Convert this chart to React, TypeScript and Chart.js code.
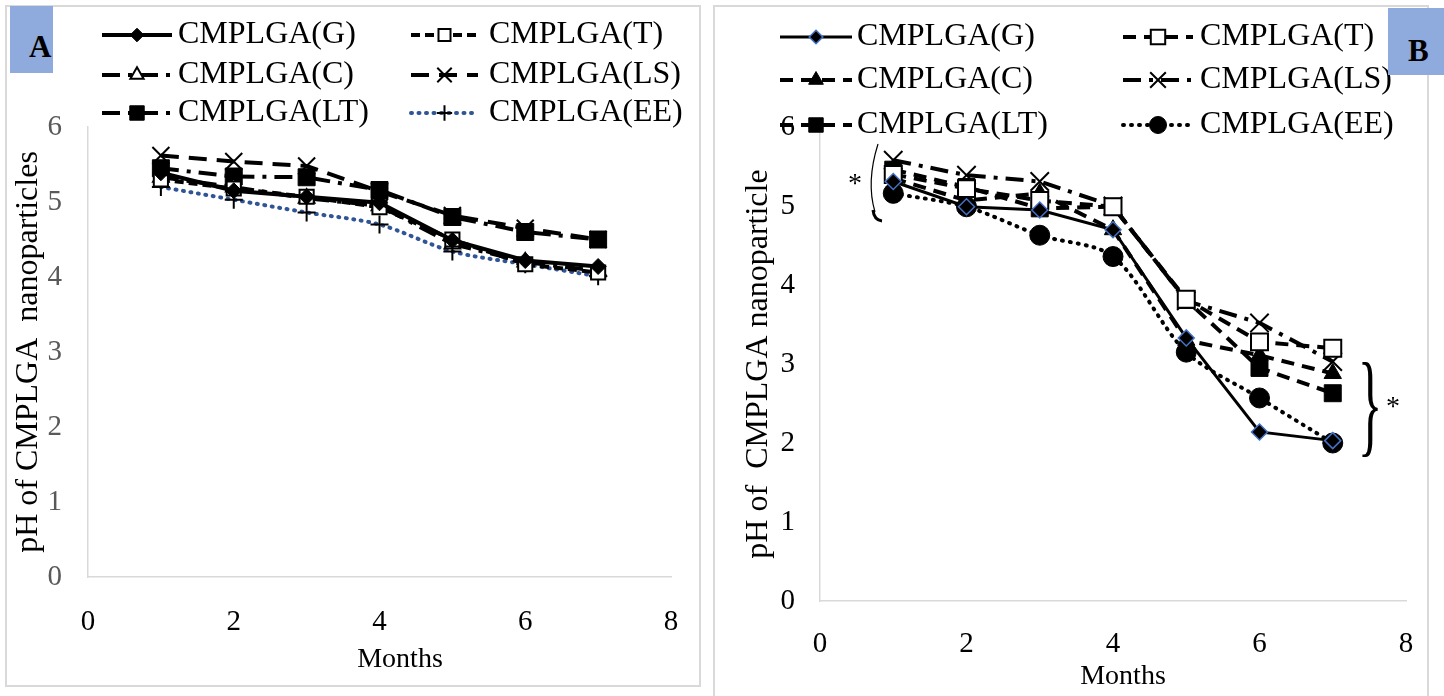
import React, { useEffect, useRef } from 'react';
import { Chart, registerables } from 'chart.js';
import { drawPoint } from 'chart.js/helpers';

Chart.register(...registerables);

// ---------- data ----------
const months = [1, 2, 3, 4, 5, 6, 7];
const seriesNames = ['CMPLGA(G)', 'CMPLGA(T)', 'CMPLGA(C)', 'CMPLGA(LS)', 'CMPLGA(LT)', 'CMPLGA(EE)'];

const panelA_G = [5.39, 5.15, 5.07, 4.99, 4.49, 4.22, 4.14];
const panelA_T = [5.3, 5.18, 5.07, 4.93, 4.5, 4.17, 4.06];
const panelA_C = [5.33, 5.2, 5.05, 4.95, 4.44, 4.2, 4.08];
const panelA_LS = [5.62, 5.54, 5.48, 5.14, 4.82, 4.65, 4.5];
const panelA_LT = [5.45, 5.34, 5.33, 5.16, 4.8, 4.6, 4.5];
const panelA_EE = [5.2, 5.03, 4.86, 4.7, 4.34, 4.17, 4.01];

const panelB_G = [5.31, 4.99, 4.95, 4.7, 3.33, 2.14, 2.03];
const panelB_T = [5.4, 5.22, 5.07, 4.99, 3.82, 3.28, 3.2];
const panelB_C = [5.35, 5.07, 5.16, 4.7, 3.3, 3.11, 2.88];
const panelB_LS = [5.58, 5.39, 5.31, 5.0, 3.8, 3.52, 3.03];
const panelB_LT = [5.46, 5.24, 4.97, 4.99, 3.81, 2.95, 2.63];
const panelB_EE = [5.16, 4.99, 4.63, 4.36, 3.15, 2.57, 2.0];

const xTickValues = [0, 2, 4, 6, 8];
const yTickValues = [0, 1, 2, 3, 4, 5, 6];
const xTitle = 'Months';
const yTitleA = 'pH of CMPLGA  nanoparticles';
const yTitleB = 'pH of  CMPLGA nanoparticle';
const panelLabelA = 'A';
const panelLabelB = 'B';
const starText = '*';
const braceText = '}';

// ---------- styles ----------
const FONT = "'Liberation Serif', 'Times New Roman', serif";

const stylesA: any[] = [
  { borderColor: '#000', borderWidth: 4, borderDash: [], pointStyle: 'rectRot', pointRadius: 8, pointBackgroundColor: '#000', pointBorderColor: '#000', pointBorderWidth: 1 },
  { borderColor: '#000', borderWidth: 4, borderDash: [9, 5], pointStyle: 'rect', pointRadius: 10, pointBackgroundColor: '#fff', pointBorderColor: '#000', pointBorderWidth: 2 },
  { borderColor: '#000', borderWidth: 4, borderDash: [18, 8, 4, 8], pointStyle: 'triangle', pointRadius: 9, pointBackgroundColor: '#fff', pointBorderColor: '#000', pointBorderWidth: 2 },
  { borderColor: '#000', borderWidth: 4, borderDash: [18, 10], pointStyle: 'crossRot', pointRadius: 12, pointBackgroundColor: '#000', pointBorderColor: '#000', pointBorderWidth: 2 },
  { borderColor: '#000', borderWidth: 4, borderDash: [18, 8, 4, 8], pointStyle: 'rect', pointRadius: 12, pointBackgroundColor: '#000', pointBorderColor: '#000', pointBorderWidth: 1 },
  { borderColor: '#2F5597', borderWidth: 4, borderDash: [1, 6.5], borderCapStyle: 'round', tension: 0.3, pointStyle: 'cross', pointRadius: 9, pointBackgroundColor: '#000', pointBorderColor: '#000', pointBorderWidth: 2 },
];

const stylesB: any[] = [
  { borderColor: '#000', borderWidth: 3, borderDash: [], pointStyle: 'rectRot', pointRadius: 8, pointBackgroundColor: '#000', pointBorderColor: '#4472C4', pointBorderWidth: 1.5 },
  { borderColor: '#000', borderWidth: 4, borderDash: [13, 8], pointStyle: 'rect', pointRadius: 12, pointBackgroundColor: '#fff', pointBorderColor: '#000', pointBorderWidth: 2 },
  { borderColor: '#000', borderWidth: 4, borderDash: [13, 8], pointStyle: 'triangle', pointRadius: 10, pointBackgroundColor: '#000', pointBorderColor: '#000', pointBorderWidth: 1 },
  { borderColor: '#000', borderWidth: 4, borderDash: [18, 8, 4, 8], pointStyle: 'crossRot', pointRadius: 13, pointBackgroundColor: '#000', pointBorderColor: '#000', pointBorderWidth: 2 },
  { borderColor: '#000', borderWidth: 4, borderDash: [13, 8], pointStyle: 'rect', pointRadius: 12, pointBackgroundColor: '#000', pointBorderColor: '#000', pointBorderWidth: 1 },
  { borderColor: '#000', borderWidth: 4, borderDash: [1, 7], borderCapStyle: 'round', tension: 0.3, pointStyle: 'circle', pointRadius: 10, pointBackgroundColor: '#000', pointBorderColor: '#000', pointBorderWidth: 1 },
];

// ---------- plugins ----------
const legendPlugin = {
  id: 'customLegend',
  afterDraw(chart: any, _args: any, opts: any) {
    if (!opts || !opts.rows) return;
    const ctx = chart.ctx as CanvasRenderingContext2D;
    ctx.save();
    chart.data.datasets.forEach((ds: any, i: number) => {
      const y = opts.rows[Math.floor(i / 2)];
      const c = opts.cols[i % 2];
      ctx.setLineDash(ds.borderDash || []);
      ctx.lineCap = ds.borderCapStyle || 'butt';
      ctx.strokeStyle = ds.borderColor;
      ctx.lineWidth = ds.borderWidth;
      ctx.beginPath();
      ctx.moveTo(c.x0, y);
      ctx.lineTo(c.x1, y);
      ctx.stroke();
      ctx.setLineDash([]);
      ctx.lineCap = 'butt';
      ctx.fillStyle = ds.pointBackgroundColor;
      ctx.strokeStyle = ds.pointBorderColor;
      ctx.lineWidth = ds.pointBorderWidth;
      drawPoint(ctx, { pointStyle: ds.pointStyle, radius: ds.pointRadius * 0.85, borderWidth: ds.pointBorderWidth, rotation: 0 } as any, (c.x0 + c.x1) / 2, y);
      ctx.fillStyle = '#000';
      ctx.font = `${opts.fontSize}px ${FONT}`;
      ctx.textBaseline = 'middle';
      ctx.textAlign = 'left';
      ctx.fillText(ds.label, c.tx, y);
    });
    ctx.restore();
  },
};

const textPlugin = {
  id: 'customText',
  afterDraw(chart: any, _args: any, opts: any) {
    if (!opts || !opts.items) return;
    const ctx = chart.ctx as CanvasRenderingContext2D;
    ctx.save();
    for (const t of opts.items) {
      ctx.save();
      ctx.fillStyle = '#000';
      ctx.font = `${t.weight || 'normal'} ${t.size}px ${FONT}`;
      ctx.textAlign = 'center';
      ctx.textBaseline = t.baseline || 'middle';
      ctx.translate(t.x, t.y);
      ctx.scale(t.sx || 1, 1);
      ctx.fillText(t.text, 0, 0);
      ctx.restore();
    }
    if (opts.bracket) {
      const b = opts.bracket;
      ctx.strokeStyle = '#000';
      ctx.lineWidth = 1.2;
      ctx.beginPath();
      ctx.moveTo(b.x, b.top);
      ctx.quadraticCurveTo(b.x - 12, (b.top + b.bottom) / 2, b.x - 3, b.bottom - 8);
      ctx.stroke();
      ctx.lineWidth = 3;
      ctx.beginPath();
      ctx.moveTo(b.x - 5, b.bottom - 10);
      ctx.quadraticCurveTo(b.x - 4, b.bottom, b.x + 4, b.bottom + 1);
      ctx.stroke();
    }
    ctx.restore();
  },
};

function makeConfig(p: any): any {
  const seriesValues = p.values as number[][];
  return {
    type: 'line',
    data: {
      datasets: seriesNames.map((name, i) => ({
        label: name,
        data: months.map((m, j) => ({ x: m, y: seriesValues[i][j] })),
        fill: false,
        ...p.styles[i],
      })),
    },
    plugins: [legendPlugin, textPlugin],
    options: {
      responsive: false,
      animation: false,
      events: [],
      layout: { padding: { top: p.padTop, right: p.padRight, left: 0, bottom: 0 } },
      plugins: {
        legend: { display: false },
        tooltip: { enabled: false },
        customLegend: { rows: p.legendRows, cols: p.legendCols, fontSize: 32 },
        customText: { items: p.texts, bracket: p.bracket },
      },
      scales: {
        x: {
          type: 'linear',
          min: 0,
          max: 8,
          afterBuildTicks: (s: any) => { s.ticks = xTickValues.map((v) => ({ value: v })); },
          afterFit: (s: any) => { s.height = p.xAxisHeight; },
          ticks: { font: { family: FONT, size: 29 }, color: '#000', padding: p.xTickPad, maxRotation: 0 },
          grid: { display: false, drawTicks: false },
          border: { display: true, color: '#d9d9d9', width: 1.5 },
        },
        y: {
          min: 0,
          max: 6,
          afterBuildTicks: (s: any) => { s.ticks = yTickValues.map((v) => ({ value: v })); },
          afterFit: (s: any) => { s.width = p.yAxisWidth; },
          ticks: { font: { family: FONT, size: 29 }, color: p.yTickColor, padding: p.yTickPad },
          grid: { display: false, drawTicks: false },
          border: { display: true, color: '#d9d9d9', width: 1.5 },
          title: { display: true, text: p.yTitle, color: '#000', font: { family: FONT, size: 32 }, padding: { top: p.yTitlePad, bottom: 0 } },
        },
      },
    },
  };
}

export default function App() {
  const refA = useRef<HTMLCanvasElement>(null);
  const refB = useRef<HTMLCanvasElement>(null);

  useEffect(() => {
    const chartA = new Chart(refA.current as HTMLCanvasElement, makeConfig({
      values: [panelA_G, panelA_T, panelA_C, panelA_LS, panelA_LT, panelA_EE],
      styles: stylesA,
      padTop: 127,
      padRight: 37,
      xAxisHeight: 119,
      yAxisWidth: 88,
      xTickPad: 28,
      yTickPad: 26,
      yTickColor: '#595959',
      yTitle: yTitleA,
      yTitlePad: 9,
      legendRows: [35, 75, 113],
      legendCols: [{ x0: 102, x1: 172, tx: 178 }, { x0: 411, x1: 478, tx: 489 }],
      texts: [{ text: xTitle, x: 400, y: 660, size: 28 }],
    }));
    const chartB = new Chart(refB.current as HTMLCanvasElement, makeConfig({
      values: [panelB_G, panelB_T, panelB_C, panelB_LS, panelB_LT, panelB_EE],
      styles: stylesB,
      padTop: 127,
      padRight: 38,
      xAxisHeight: 95,
      yAxisWidth: 110,
      xTickPad: 26,
      yTickPad: 25,
      yTickColor: '#000',
      yTitle: yTitleB,
      yTitlePad: 29,
      legendRows: [37, 80, 125],
      legendCols: [{ x0: 70, x1: 142, tx: 147 }, { x0: 413, x1: 483, tx: 490 }],
      texts: [
        { text: xTitle, x: 413, y: 677, size: 28 },
        { text: starText, x: 145, y: 185, size: 28 },
        { text: braceText, x: 660, y: 442, size: 114, sx: 0.45, baseline: 'alphabetic' },
        { text: starText, x: 683, y: 408, size: 28 },
      ],
      bracket: { x: 168, top: 144, bottom: 220 },
    }));
    return () => {
      chartA.destroy();
      chartB.destroy();
    };
  }, []);

  const boxLabel: React.CSSProperties = {
    position: 'absolute',
    fontFamily: FONT,
    fontWeight: 'bold',
    fontSize: 31,
    lineHeight: '31px',
    color: '#000',
  };

  return (
    <div style={{ position: 'absolute', left: 0, top: 0, width: 1444, height: 696, overflow: 'hidden', background: '#fff' }}>
      <div style={{ position: 'absolute', left: 5, top: 5, width: 696, height: 682, border: '2px solid #d9d9d9', boxSizing: 'border-box' }} />
      <div style={{ position: 'absolute', left: 713, top: 5, width: 716, height: 720, border: '2px solid #d9d9d9', boxSizing: 'border-box' }} />
      <canvas ref={refA} width={708} height={696} style={{ position: 'absolute', left: 0, top: 0 }} />
      <canvas ref={refB} width={734} height={696} style={{ position: 'absolute', left: 710, top: 0 }} />
      <div style={{ position: 'absolute', left: 10, top: 6, width: 43, height: 67, background: '#8FAADC', overflow: 'hidden' }}>
        <div style={{ ...boxLabel, left: 19, top: 25 }}>{panelLabelA}</div>
      </div>
      <div style={{ position: 'absolute', left: 1388, top: 8, width: 56, height: 67, background: '#8FAADC', overflow: 'hidden' }}>
        <div style={{ ...boxLabel, left: 20, top: 27 }}>{panelLabelB}</div>
      </div>
    </div>
  );
}
